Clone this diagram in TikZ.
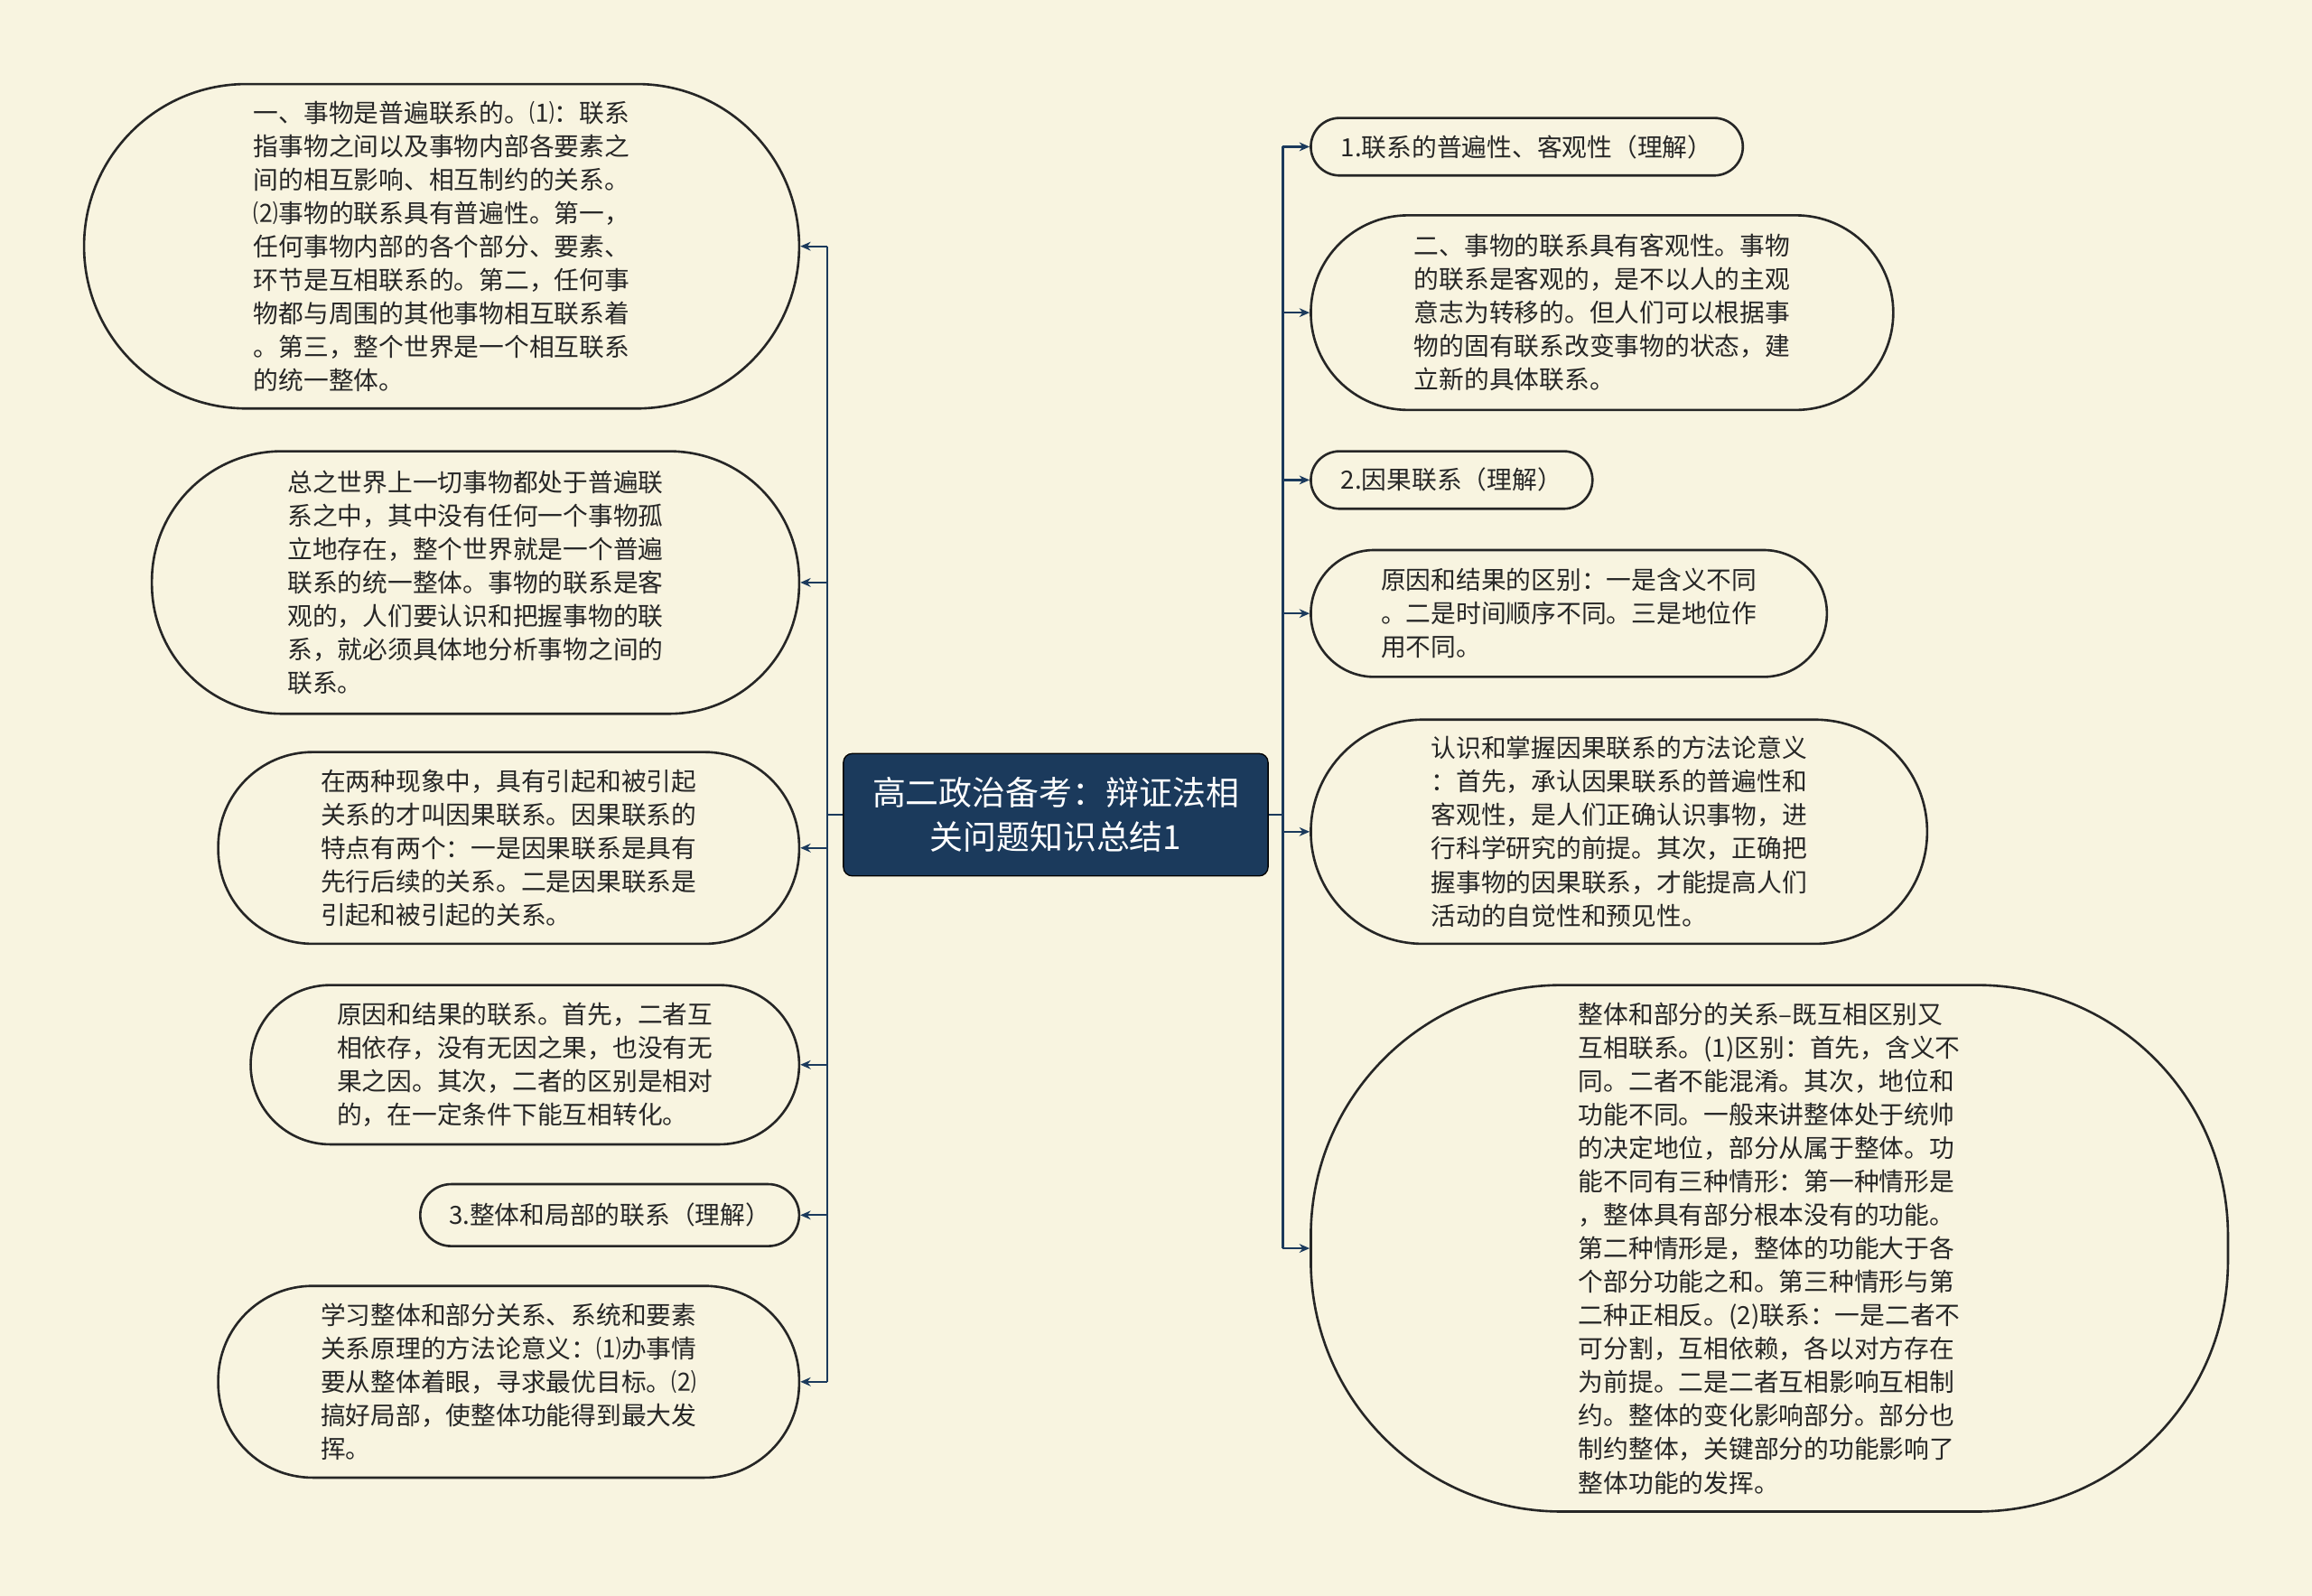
\documentclass[tikz,border=0pt]{standalone}
\usepackage{fontspec}
\setmainfont{Noto Sans CJK SC}
\usetikzlibrary{arrows.meta}
\definecolor{bg}{HTML}{F8F4E0}
\definecolor{navy}{HTML}{1B3A5C}
\tikzset{
 box/.style={draw=black!85,line width=0.8pt,align=left,font=\fontsize{8.5}{11.35}\selectfont,inner sep=0pt,text=black!85},
 conn/.style={draw=navy,line width=0.7pt},
 arr/.style={conn,-{Stealth[length=3.5pt,width=3pt]}}
}
\begin{document}
\begin{tikzpicture}[x=0.5pt,y=-0.5pt]
\fill[bg] (0,0) rectangle (1568,1082);
\useasboundingbox (0,0) rectangle (1568,1082);
\node[draw=black,fill=navy,rounded corners=3pt,minimum width=144pt,minimum height=41.5pt,align=center,text=white,font=\fontsize{11.3}{15}\selectfont] (c) at (716,552.5) {高二政治备考：辩证法相\\关问题知识总结1};
% left
\node[box,minimum width=242.5pt,minimum height=110pt,rounded corners=55pt] (L1) at (299.5,167) {一、事物是普遍联系的。⑴：联系\\指事物之间以及事物内部各要素之\\间的相互影响、相互制约的关系。\\⑵事物的联系具有普遍性。第一，\\任何事物内部的各个部分、要素、\\环节是互相联系的。第二，任何事\\物都与周围的其他事物相互联系着\\。第三，整个世界是一个相互联系\\的统一整体。};
\node[box,minimum width=219.5pt,minimum height=89pt,rounded corners=44pt] (L2) at (322.5,395) {总之世界上一切事物都处于普遍联\\系之中，其中没有任何一个事物孤\\立地存在，整个世界就是一个普遍\\联系的统一整体。事物的联系是客\\观的，人们要认识和把握事物的联\\系，就必须具体地分析事物之间的\\联系。};
\node[box,minimum width=197pt,minimum height=65pt,rounded corners=32pt] (L3) at (345,575) {在两种现象中，具有引起和被引起\\关系的才叫因果联系。因果联系的\\特点有两个：一是因果联系是具有\\先行后续的关系。二是因果联系是\\引起和被引起的关系。};
\node[box,minimum width=186pt,minimum height=54pt,rounded corners=27pt] (L4) at (356,722) {原因和结果的联系。首先，二者互\\相依存，没有无因之果，也没有无\\果之因。其次，二者的区别是相对\\的，在一定条件下能互相转化。};
\node[box,minimum width=128.5pt,minimum height=21pt,rounded corners=10.5pt] (L5) at (413.5,824) {3.整体和局部的联系（理解）};
\node[box,minimum width=197pt,minimum height=65pt,rounded corners=32pt] (L6) at (345,937) {学习整体和部分关系、系统和要素\\关系原理的方法论意义：⑴办事情\\要从整体着眼，寻求最优目标。⑵\\搞好局部，使整体功能得到最大发\\挥。};
% right
\node[box,minimum width=146.5pt,minimum height=19.5pt,rounded corners=9.75pt] (R1) at (1035.5,99.5) {1.联系的普遍性、客观性（理解）};
\node[box,minimum width=197.5pt,minimum height=66pt,rounded corners=33pt] (R2) at (1086.5,212) {二、事物的联系具有客观性。事物\\的联系是客观的，是不以人的主观\\意志为转移的。但人们可以根据事\\物的固有联系改变事物的状态，建\\立新的具体联系。};
\node[box,minimum width=95.5pt,minimum height=19.5pt,rounded corners=9.75pt] (R3) at (984.5,325.5) {2.因果联系（理解）};
\node[box,minimum width=175pt,minimum height=43pt,rounded corners=21.5pt] (R4) at (1064,416) {原因和结果的区别：一是含义不同\\。二是时间顺序不同。三是地位作\\用不同。};
\node[box,minimum width=209pt,minimum height=76pt,rounded corners=38pt] (R5) at (1098,564) {认识和掌握因果联系的方法论意义\\：首先，承认因果联系的普遍性和\\客观性，是人们正确认识事物，进\\行科学研究的前提。其次，正确把\\握事物的因果联系，才能提高人们\\活动的自觉性和预见性。};
\node[box,minimum width=311pt,minimum height=178.5pt,rounded corners=85pt] (R6) at (1200,846.5) {整体和部分的关系--既互相区别又\\互相联系。(1)区别：首先，含义不\\同。二者不能混淆。其次，地位和\\功能不同。一般来讲整体处于统帅\\的决定地位，部分从属于整体。功\\能不同有三种情形：第一种情形是\\，整体具有部分根本没有的功能。\\第二种情形是，整体的功能大于各\\个部分功能之和。第三种情形与第\\二种正相反。(2)联系：一是二者不\\可分割，互相依赖，各以对方存在\\为前提。二是二者互相影响互相制\\约。整体的变化影响部分。部分也\\制约整体，关键部分的功能影响了\\整体功能的发挥。};
% connectors
\coordinate (ls) at (561,552.5);
\coordinate (rs) at (870,552.5);
\draw[conn] (c.west) -- (ls);
\draw[conn] (c.east) -- (rs);
\draw[conn] (ls |- L1.east) -- (ls |- L6.east);
\draw[conn] (rs |- R1.east) -- (rs |- R6.west);
\foreach \n in {L1,L2,L3,L4,L5,L6} \draw[arr] (ls |- \n.east) -- (\n.east);
\foreach \n in {R1,R2,R3,R4,R5,R6} \draw[arr] (rs |- \n.west) -- (\n.west);
\end{tikzpicture}
\end{document}
